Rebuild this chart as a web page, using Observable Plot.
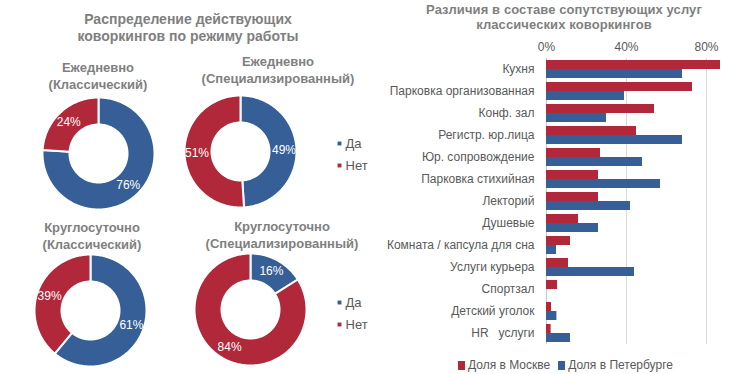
<!DOCTYPE html>
<html><head><meta charset="utf-8">
<script src="https://cdn.jsdelivr.net/npm/d3@7"></script>
<script src="https://cdn.jsdelivr.net/npm/@observablehq/plot@0.6"></script>
<style>
body{margin:0;background:#fff;font-family:"Liberation Sans",Arial,sans-serif;}
#wrap{position:relative;width:735px;height:374px;overflow:hidden;background:#fff;}
.ttl{position:absolute;color:#7f7f7f;font-weight:bold;text-align:center;white-space:nowrap;}
.abs{position:absolute;}
.leg{position:absolute;display:flex;align-items:center;font-size:12px;color:#595959;white-space:nowrap;}
.sw{display:inline-block;width:7px;height:9px;margin-right:3px;}
</style></head><body><div id="wrap"></div>
<script>
// ---- data ----
const leftTitle = ["Распределение действующих", "коворкингов по режиму работы"];
const rightTitle = ["Различия в составе сопутствующих услуг", "классических коворкингов"];
const donutTitles = [
  ["Ежедневно", "(Классический)"],
  ["Ежедневно", "(Специализированный)"],
  ["Круглосуточно", "(Классический)"],
  ["Круглосуточно", "(Специализированный)"]
];
const answers = ["Да", "Нет"];
const donutYes = [76, 49, 61, 16];
const donutNo = [24, 51, 39, 84];

const services = ["Кухня", "Парковка организованная", "Конф. зал", "Регистр. юр.лица",
  "Юр. сопровождение", "Парковка стихийная", "Лекторий", "Душевые",
  "Комната / капсула для сна", "Услуги курьера", "Спортзал", "Детский уголок", "HR   услуги"];
const seriesNames = ["Доля в Москве", "Доля в Петербурге"];
const moscow = [87, 73, 54, 45, 27, 26, 26, 16, 12, 11, 5.5, 2.5, 2.3];
const peter  = [68, 39, 30, 68, 48, 57, 42, 26, 5, 44, 0, 5.2, 12];
const xTicks = [0, 40, 80];

// ---- style ----
const BLUE = "#365f97", RED = "#b0283a";
const FONT = "Liberation Sans, Arial, sans-serif";
const wrap = document.getElementById("wrap");

function addTitle(lines, cx, top, size, lh, spacing) {
  const d = document.createElement("div");
  d.className = "ttl";
  d.style.left = (cx - 200) + "px"; d.style.width = "400px";
  d.style.top = top + "px"; d.style.fontSize = size + "px"; d.style.lineHeight = lh + "px";
  d.style.letterSpacing = spacing + "px";
  d.innerHTML = lines.join("<br>");
  wrap.appendChild(d);
}

// ---- donuts ----
const layout = [{cx: 98, cy: 153}, {cx: 240, cy: 151}, {cx: 90, cy: 310}, {cx: 250, cy: 309}];
const titleLayout = [{cx: 98, top: 59}, {cx: 278, top: 53}, {cx: 92, top: 219}, {cx: 282, top: 218}];
const R = 56, Ri = 29;
const pts = [], pctLabels = [];
donutYes.forEach((yes, i) => {
  const vals = [yes, donutNo[i]];
  const {cx, cy} = layout[i];
  const arcs = d3.pie().sort(null)(vals);
  arcs.forEach((a, j) => {
    const id = i + "-" + j;
    const n = Math.max(4, Math.ceil((a.endAngle - a.startAngle) / 0.02));
    const ring = [];
    for (let k = 0; k <= n; k++) {
      const t = a.startAngle + (a.endAngle - a.startAngle) * k / n;
      ring.push({id, answer: answers[j], x: cx + R * Math.sin(t), y: cy - R * Math.cos(t)});
    }
    for (let k = n; k >= 0; k--) {
      const t = a.startAngle + (a.endAngle - a.startAngle) * k / n;
      ring.push({id, answer: answers[j], x: cx + Ri * Math.sin(t), y: cy - Ri * Math.cos(t)});
    }
    ring.push({...ring[0]});
    pts.push(...ring);
    const mid = (a.startAngle + a.endAngle) / 2, rm = (R + Ri) / 2 + 1;
    pctLabels.push({x: cx + rm * Math.sin(mid), y: cy - rm * Math.cos(mid), text: vals[j] + "%"});
  });
});
const legendPos = [{x: 339, y: 143}, {x: 339, y: 302}];
const legendItems = legendPos.flatMap(p => answers.map((a, j) => ({answer: a, x: p.x, y: p.y + j * 22})));

const left = Plot.plot({
  width: 370, height: 374, margin: 0,
  style: {fontFamily: FONT, background: "transparent"},
  x: {domain: [0, 370], range: [0, 370], axis: null},
  y: {domain: [0, 374], range: [0, 374], axis: null},
  color: {domain: answers, range: [BLUE, RED]},
  marks: [
    Plot.line(pts, {x: "x", y: "y", z: "id", fill: "answer", stroke: "white", strokeWidth: 2, curve: "linear"}),
    Plot.text(pctLabels, {x: "x", y: "y", text: "text", fill: "white", fontSize: 12}),
    Plot.dot(legendItems, {x: "x", y: "y", fill: "answer", symbol: "square", r: 2.2}),
    Plot.text(legendItems, {x: "x", y: "y", text: "answer", textAnchor: "start", dx: 6, fill: "#595959", fontSize: 13})
  ]
});
left.classList.add("abs");
left.style.left = "0px"; left.style.top = "0px";
wrap.appendChild(left);

addTitle(leftTitle, 188, 11, 14, 17, 0);
donutTitles.forEach((t, i) => addTitle(t, titleLayout[i].cx, titleLayout[i].top, 13, 17, 0));

// ---- bars ----
const barData = services.flatMap((s, i) => [
  {service: s, series: seriesNames[0], value: moscow[i]},
  {service: s, series: seriesNames[1], value: peter[i]}
]);
const right = Plot.plot({
  width: 365, height: 374,
  marginLeft: 176, marginRight: 9, marginTop: 56, marginBottom: 29,
  style: {fontFamily: FONT, fontSize: "12px", color: "#595959", background: "transparent"},
  x: {domain: [0, 90], axis: "top", ticks: xTicks, tickFormat: d => d + "%", tickSize: 0, tickPadding: 8, label: null},
  fy: {domain: services, padding: 0, label: null, tickSize: 0, tickPadding: 12},
  y: {domain: seriesNames, axis: null, paddingInner: 0, paddingOuter: 0.19},
  color: {domain: seriesNames, range: [RED, BLUE]},
  marks: [
    Plot.ruleX(xTicks.filter(d => d > 0), {stroke: "#d9d9d9"}),
    Plot.ruleX([0], {stroke: "#c8c8c8"}),
    Plot.barX(barData, {x: "value", y: "series", fy: "service", fill: "series"})
  ]
});
right.classList.add("abs");
right.style.left = "370px"; right.style.top = "0px";
wrap.appendChild(right);

addTitle(rightTitle, 564, 2, 13, 15, 0.1);

// bottom legend
const leg = document.createElement("div");
leg.className = "leg";
leg.style.left = "458px"; leg.style.top = "358px";
leg.innerHTML = seriesNames.map((s, i) =>
  `<span class="sw" style="background:${i ? BLUE : RED}"></span><span style="margin-right:${i ? 0 : 8}px">${s}</span>`).join("");
wrap.appendChild(leg);
</script>
</body></html>
